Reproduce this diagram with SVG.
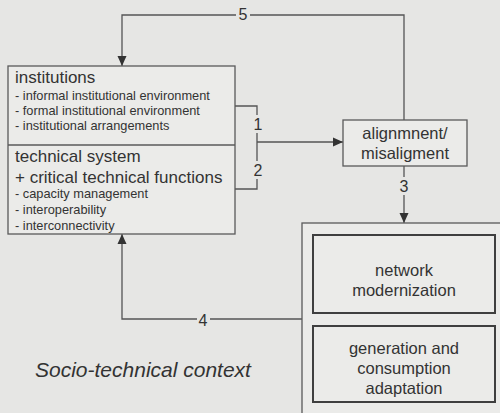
<svg xmlns="http://www.w3.org/2000/svg" width="500" height="413" viewBox="0 0 500 413">
<style>
.box{fill:#ebebe9;stroke:#5a5a5a;stroke-width:1.3}
.inner{fill:#ebebe9;stroke:#3f3f3f;stroke-width:2}
.conn{fill:none;stroke:#555;stroke-width:1.3}
text{font-family:"Liberation Sans",Arial,sans-serif;fill:#333}
.h{font-size:17px}
.s{font-size:12.8px}
.n{font-size:16px;text-anchor:middle}
.c{font-size:16.5px;text-anchor:middle}
.lbl{fill:#e6e6e4}
</style>
<defs>
<marker id="ah" viewBox="0 0 10 10" refX="10" refY="5" markerWidth="10" markerHeight="10" markerUnits="userSpaceOnUse" orient="auto">
<path d="M0,0.5 L10,5 L0,9.5 Z" fill="#333"/>
</marker>
</defs>
<rect width="500" height="413" fill="#e6e6e4"/>
<g id="connectors">
<path class="conn" d="M404 120 V15 H122 V66" marker-end="url(#ah)"/>
<path class="conn" d="M235 106 H257 V189 H235"/>
<path class="conn" d="M257 142 H343" marker-end="url(#ah)"/>
<path class="conn" d="M404 166 V223" marker-end="url(#ah)"/>
<path class="conn" d="M302 319 H122 V234" marker-end="url(#ah)"/>
<rect class="lbl" x="236" y="5" width="14" height="18"/>
<text x="243" y="20" class="n">5</text>
<rect class="lbl" x="252" y="115" width="12" height="18"/>
<text x="258" y="130" class="n">1</text>
<rect class="lbl" x="252" y="161" width="12" height="18"/>
<text x="258" y="176" class="n">2</text>
<rect class="lbl" x="398" y="177" width="12" height="18"/>
<text x="404" y="192" class="n">3</text>
<rect class="lbl" x="197" y="312" width="13" height="16"/>
<text x="203" y="326" class="n">4</text>
</g>
<g id="main">
<rect class="box" x="8" y="66" width="227" height="168"/>
<line x1="8" y1="145" x2="235" y2="145" stroke="#5a5a5a" stroke-width="1.3"/>
<text x="15" y="83" class="h">institutions</text>
<text x="15" y="100" class="s">- informal institutional environment</text>
<text x="15" y="115" class="s">- formal institutional environment</text>
<text x="15" y="130" class="s">- institutional arrangements</text>
<text x="15" y="162" class="h">technical system</text>
<text x="15" y="183" class="h">+ critical technical functions</text>
<text x="15" y="198" class="s">- capacity management</text>
<text x="15" y="214" class="s">- interoperability</text>
<text x="15" y="230" class="s">- interconnectivity</text>
</g>
<g id="alignment">
<rect class="box" x="343" y="120" width="124" height="46"/>
<text x="405" y="139" class="c">alignmnent/</text>
<text x="405" y="159" class="c">misaligment</text>
</g>
<g id="container">
<rect class="box" x="302" y="223" width="210" height="200"/>
</g>
<g id="network">
<rect class="inner" x="313" y="235" width="182" height="78"/>
<text x="404" y="276" class="c">network</text>
<text x="404" y="296" class="c">modernization</text>
</g>
<g id="generation">
<rect class="inner" x="313" y="326" width="182" height="76"/>
<text x="404" y="354" class="c">generation and</text>
<text x="404" y="374" class="c">consumption</text>
<text x="404" y="394" class="c">adaptation</text>
</g>
<text x="35" y="377" style="font-size:21px;font-style:italic">Socio-technical context</text>
</svg>
